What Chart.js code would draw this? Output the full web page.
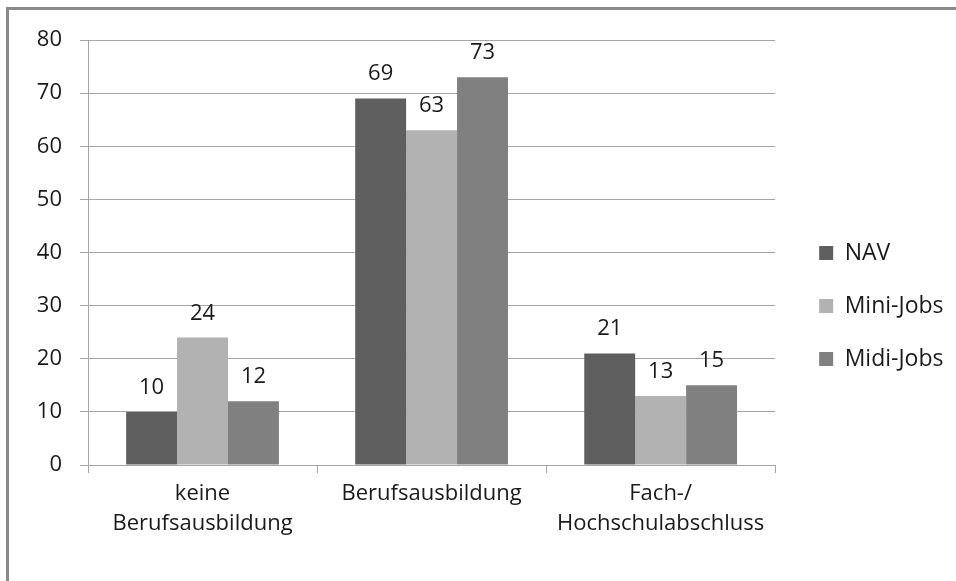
<!DOCTYPE html>
<html>
<head>
<meta charset="utf-8">
<script src="https://cdn.jsdelivr.net/npm/chart.js@4/dist/chart.umd.min.js"></script>
<style>
  html, body { margin: 0; padding: 0; background: #fff; }
  #frame { position: absolute; left: 6px; top: 7px; width: 1000px; height: 700px;
           border-left: 3px solid #8a8a8a; border-top: 3px solid #8a8a8a; }
  #wrap { position: absolute; left: 0; top: 0; width: 956px; height: 581px; }
</style>
</head>
<body>
<div id="frame"></div>
<div id="wrap"><canvas id="c" width="956" height="581"></canvas></div>
<script>
const categories = [['keine', 'Berufsausbildung'], 'Berufsausbildung', ['Fach-/', 'Hochschulabschluss']];
const seriesNames = ['NAV', 'Mini-Jobs', 'Midi-Jobs'];
const navValues = [10, 69, 21];
const miniValues = [24, 63, 13];
const midiValues = [12, 73, 15];
const yTicks = [0, 10, 20, 30, 40, 50, 60, 70, 80];
const colors = ['#5f5f5f', '#b2b2b2', '#808080'];

const FONT = '"Open Sans", "Noto Sans", sans-serif';
const gridColor = '#a6a6a6';
const textColor = '#1a1a1a';

const valueLabels = {
  id: 'valueLabels',
  afterDatasetsDraw(chart) {
    const ctx = chart.ctx;
    ctx.save();
    ctx.font = '22px ' + FONT;
    ctx.fillStyle = textColor;
    ctx.textAlign = 'center';
    ctx.textBaseline = 'alphabetic';
    chart.data.datasets.forEach((ds, i) => {
      const meta = chart.getDatasetMeta(i);
      meta.data.forEach((bar, j) => {
        ctx.fillText(String(ds.data[j]), bar.x, bar.y - 18);
      });
    });
    ctx.restore();
  }
};

new Chart(document.getElementById('c'), {
  type: 'bar',
  data: {
    labels: categories,
    datasets: [
      { label: seriesNames[0], data: navValues, backgroundColor: colors[0] },
      { label: seriesNames[1], data: miniValues, backgroundColor: colors[1] },
      { label: seriesNames[2], data: midiValues, backgroundColor: colors[2] }
    ]
  },
  options: {
    responsive: false,
    animation: false,
    layout: { padding: { top: 40, left: 0, right: 9, bottom: 9 } },
    datasets: { bar: { categoryPercentage: 0.667, barPercentage: 1.0, borderWidth: 0 } },
    plugins: {
      tooltip: { enabled: false },
      legend: {
        position: 'right',
        labels: {
          font: { family: FONT, size: 23 },
          color: textColor,
          boxWidth: 14,
          boxHeight: 14,
          padding: 30
        }
      }
    },
    scales: {
      x: {
        offset: true,
        grid: { offset: true, drawOnChartArea: false, drawTicks: true, tickLength: 8, color: gridColor },
        border: { color: gridColor },
        ticks: { font: { family: FONT, size: 22, lineHeight: 1.36 }, color: textColor, padding: 6, maxRotation: 0, autoSkip: false },
        afterFit(axis) { axis.height = 107; }
      },
      y: {
        min: 0, max: 80,
        afterBuildTicks(axis) { axis.ticks = yTicks.map(v => ({ value: v })); },
        grid: { color: gridColor, tickLength: 8 },
        border: { color: gridColor },
        ticks: { font: { family: FONT, size: 22 }, color: textColor, padding: 18 },
        afterFit(axis) { axis.width = 88; }
      },
      gap: {
        position: 'right',
        type: 'linear',
        display: true,
        grid: { display: false, drawTicks: false },
        border: { display: false },
        ticks: { display: false },
        afterFit(axis) { axis.width = 14; }
      }
    }
  },
  plugins: [valueLabels]
});
</script>
</body>
</html>
